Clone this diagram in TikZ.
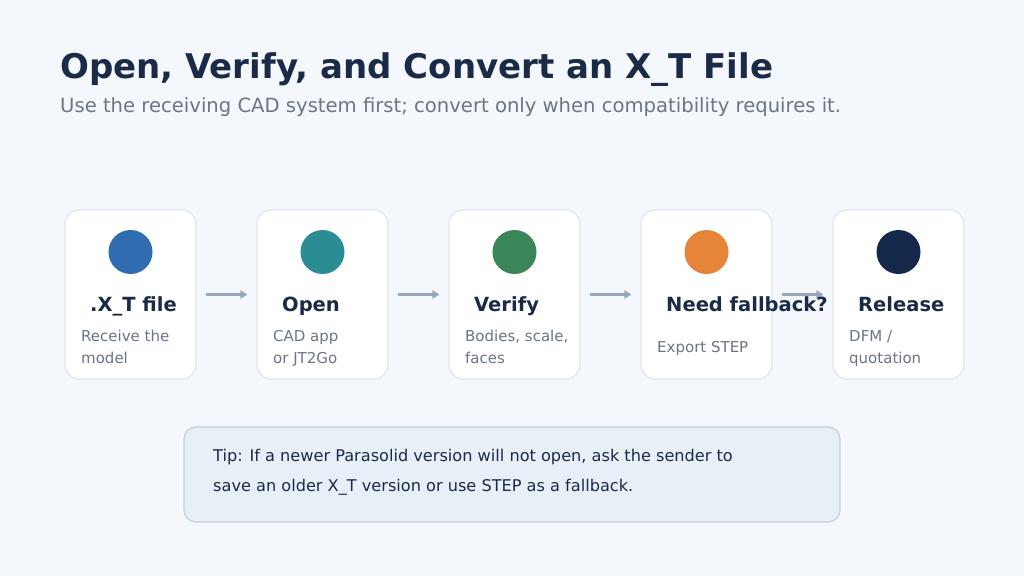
\documentclass[tikz,border=0pt]{standalone}
\usepackage{fontspec}
\setmainfont{DejaVu Sans}
\usetikzlibrary{arrows.meta}
\definecolor{bgc}{HTML}{F4F7FB}
\definecolor{ink}{HTML}{1B2A47}
\definecolor{muted}{HTML}{6B7585}
\definecolor{edge}{HTML}{E0E6EE}
\definecolor{flowc}{HTML}{97A6BA}
\definecolor{tipfill}{HTML}{E9EFF7}
\definecolor{tipedge}{HTML}{C3D0DE}
\definecolor{cblue}{HTML}{2F6DB0}
\definecolor{cteal}{HTML}{2A8C94}
\definecolor{cgreen}{HTML}{3A8659}
\definecolor{corange}{HTML}{E6843A}
\definecolor{cnavy}{HTML}{14284B}
\begin{document}
\begin{tikzpicture}[x=1pt,y=-1pt,
  card/.style={draw=edge,line width=1.2pt,fill=white,rounded corners=14pt,
    minimum width=131pt,minimum height=169pt,inner sep=0pt},
  dot/.style={circle,minimum size=44pt,inner sep=0pt},
  head/.style={anchor=base west,inner sep=0pt,text=ink,font=\bfseries\fontsize{19.5}{23}\selectfont},
  desc/.style={anchor=base west,inner sep=0pt,text=muted,align=left,font=\fontsize{15}{22}\selectfont},
  flow/.style={draw=flowc,line width=3pt,-{Triangle[length=7pt,width=8pt]},
    shorten <=9pt,shorten >=9pt}]
  \fill[bgc] (0,0) rectangle (1024,576);
  \useasboundingbox (0,0) rectangle (1024,576);
  \node[anchor=base west,inner sep=0pt,text=ink,font=\bfseries\fontsize{34}{40}\selectfont] (title) at (60,78) {Open, Verify, and Convert an X\_T File};
  \node[anchor=base west,inner sep=0pt,text=muted,font=\fontsize{19.6}{23}\selectfont] (sub) at (60,112) {Use the receiving CAD system first; convert only when compatibility requires it.};
  \node[card] (c1) at (130.5,294.5) {};
  \node[card] (c2) at (322.5,294.5) {};
  \node[card] (c3) at (514.5,294.5) {};
  \node[card] (c4) at (706.5,294.5) {};
  \node[card] (c5) at (898.5,294.5) {};
  \node[dot,fill=cblue] (d1) at (130.5,252) {};
  \node[dot,fill=cteal] (d2) at (322.5,252) {};
  \node[dot,fill=cgreen] (d3) at (514.5,252) {};
  \node[dot,fill=corange] (d4) at (706.5,252) {};
  \node[dot,fill=cnavy] (d5) at (898.5,252) {};
  \draw[flow] (c1) -- (c2);
  \draw[flow] (c2) -- (c3);
  \draw[flow] (c3) -- (c4);
  \draw[flow] (c4) -- (c5);
  \node[head] (h1) at (90,311) {.X\_T file};
  \node[head] (h2) at (282,311) {Open};
  \node[head] (h3) at (474,311) {Verify};
  \node[head] (h4) at (666,311) {Need fallback?};
  \node[head] (h5) at (858,311) {Release};
  % two-line nodes: base is the last line
  \node[desc] (s1) at (81,363) {Receive the\\model};
  \node[desc] (s2) at (273,363) {CAD app\\or JT2Go};
  \node[desc] (s3) at (465,363) {Bodies, scale,\\faces};
  \node[desc] (s4) at (657,352) {Export STEP};
  \node[desc] (s5) at (849,363) {DFM /\\quotation};
  \node[draw=tipedge,line width=1.2pt,fill=tipfill,rounded corners=12pt,
    minimum width=656pt,minimum height=95pt,inner sep=0pt] (tip) at (512,474.5) {};
  \node[anchor=base west,inner sep=0pt,text=ink,align=left,font=\fontsize{16.15}{30}\selectfont] (tiptext) at (213,491)
    {Tip: If a newer Parasolid version will not open, ask the sender to\\save an older X\_T version or use STEP as a fallback.};
\end{tikzpicture}
\end{document}
